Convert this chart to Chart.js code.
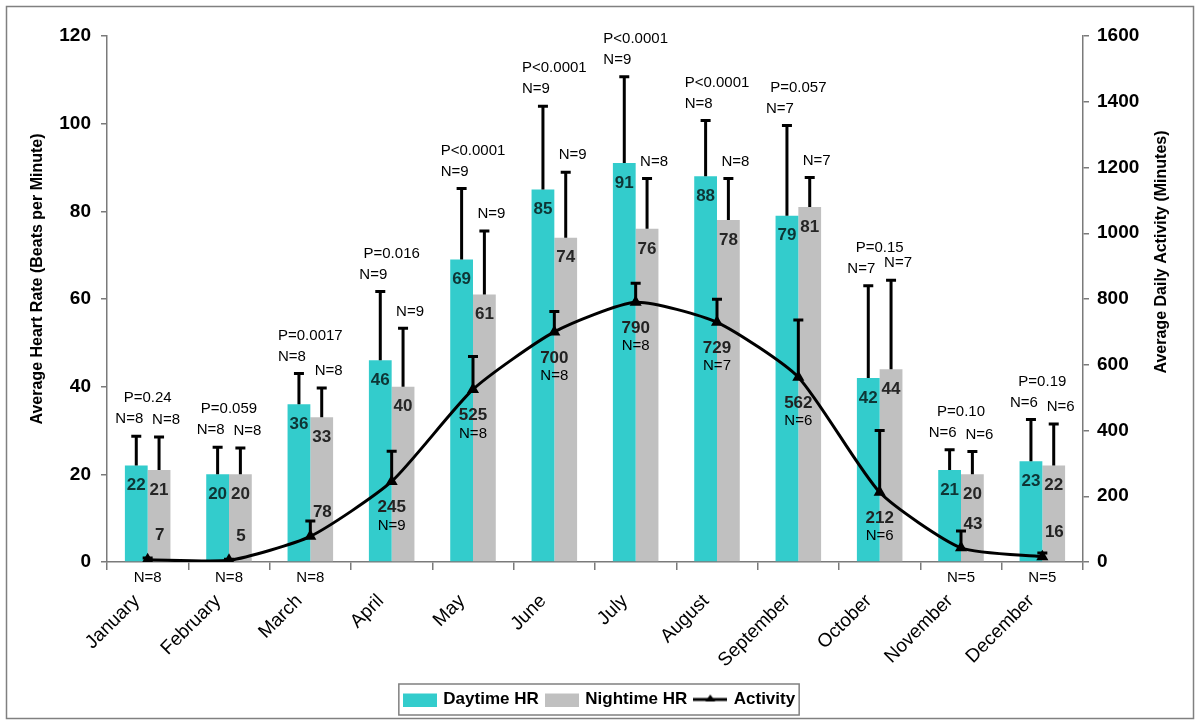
<!DOCTYPE html>
<html>
<head>
<meta charset="utf-8">
<script src="https://cdn.jsdelivr.net/npm/chart.js@4.4.1/dist/chart.umd.min.js"></script>
<style>
  html, body { margin: 0; padding: 0; background: #fff; }
  #wrap { width: 1200px; height: 725px; }
</style>
</head>
<body>
<div id="wrap"><canvas id="myChart" width="1200" height="725"></canvas></div>
<script>
// months on the x axis
const months = ['January', 'February', 'March', 'April', 'May', 'June', 'July',
  'August', 'September', 'October', 'November', 'December'];

// daytime heart rate (bpm), upper SD and sample size
const dayHR = [22, 20, 36, 46, 69, 85, 91, 88, 79, 42, 21, 23];
const dayHRSd = [6.7, 6.2, 7, 15.7, 16.2, 19, 19.7, 12.7, 20.6, 21, 4.6, 9.5];
const dayN = [8, 8, 8, 9, 9, 9, 9, 8, 7, 7, 6, 6];

// nighttime heart rate (bpm), upper SD and sample size
const nightHR = [21, 20, 33, 40, 61, 74, 76, 78, 81, 44, 20, 22];
const nightHRSd = [7.5, 6, 6.7, 13.3, 14.5, 14.9, 11.5, 9.5, 6.7, 20.3, 5.2, 9.5];
const nightN = [8, 8, 8, 9, 9, 9, 8, 8, 7, 7, 6, 6];

// average daily activity (minutes), upper SD and sample size
const activity = [7, 5, 78, 245, 525, 700, 790, 729, 562, 212, 43, 16];
const activitySd = [5, 3, 47, 92, 100, 62, 58, 70, 174, 188, 51, 11];
const activityN = [8, 8, 8, 9, 8, 8, 8, 7, 6, 6, 5, 5];

// day vs night p-values
const pValues = ['P=0.24', 'P=0.059', 'P=0.0017', 'P=0.016', 'P<0.0001', 'P<0.0001',
  'P<0.0001', 'P<0.0001', 'P=0.057', 'P=0.15', 'P=0.10', 'P=0.19'];

const FONT = '"Liberation Sans", Arial, Helvetica, sans-serif';
const TEAL = '#33cccc';
const GREY = '#c0c0c0';
const AXIS = '#7a7a7a';

// little images used as legend symbols
function legendSwatch(kind) {
    const c = document.createElement('canvas');
    c.width = 34; c.height = 14;
    const g = c.getContext('2d');
    if (kind === 'line') {
        g.strokeStyle = '#000';
        g.lineWidth = 3;
        g.beginPath(); g.moveTo(0, 7); g.lineTo(34, 7); g.stroke();
        g.fillStyle = '#000';
        g.beginPath(); g.moveTo(17, 2); g.lineTo(22, 9); g.lineTo(12, 9); g.closePath(); g.fill();
    } else {
        g.fillStyle = kind;
        g.fillRect(0, 1, 34, 13);
    }
    return c;
}

function drawErr(ctx, x, yFrom, yTop) {
    ctx.beginPath();
    ctx.moveTo(x, yFrom);
    ctx.lineTo(x, yTop);
    ctx.moveTo(x - 5, yTop);
    ctx.lineTo(x + 5, yTop);
    ctx.stroke();
}

function txt(ctx, s, x, y, font, color) {
    ctx.font = font;
    ctx.fillStyle = color;
    ctx.fillText(s, x, y);
}

// frame, error bars, labels, axis titles, legend border
const annotate = {
    id: 'annotate',
    beforeDraw(chart) {
        const c = chart.ctx;
        c.save();
        c.fillStyle = '#fff';
        c.fillRect(0, 0, chart.width, chart.height);
        c.strokeStyle = '#808080';
        c.lineWidth = 1.5;
        c.strokeRect(6.5, 6.5, 1187, 712);
        c.restore();
    },
    afterDatasetsDraw(chart) {
        const ctx = chart.ctx;
        const area = chart.chartArea;
        const yL = chart.scales.y, yR = chart.scales.y1;
        const dayMeta = chart.getDatasetMeta(0);
        const nightMeta = chart.getDatasetMeta(1);
        const actMeta = chart.getDatasetMeta(2);

        ctx.save();
        ctx.strokeStyle = '#000';
        ctx.lineWidth = 3;
        ctx.textAlign = 'center';
        ctx.textBaseline = 'middle';

        months.forEach((m, i) => {
            const d = dayMeta.data[i], n = nightMeta.data[i], a = actMeta.data[i];
            const dTop = yL.getPixelForValue(dayHR[i] + dayHRSd[i]);
            const nTop = yL.getPixelForValue(nightHR[i] + nightHRSd[i]);
            const aTop = yR.getPixelForValue(activity[i] + activitySd[i]);

            drawErr(ctx, d.x, d.y, dTop);
            drawErr(ctx, n.x, n.y, nTop);
            drawErr(ctx, a.x, a.y, aTop);

            // values inside the bars
            txt(ctx, String(dayHR[i]), d.x, d.y + 20, 'bold 17px ' + FONT, '#0e3535');
            txt(ctx, String(nightHR[i]), n.x, n.y + 20, 'bold 17px ' + FONT, '#262626');

            // sample sizes and p-values above the error bars
            txt(ctx, 'N=' + dayN[i], d.x - 7, dTop - 17, '15px ' + FONT, '#000');
            txt(ctx, 'N=' + nightN[i], n.x + 7, nTop - 17, '15px ' + FONT, '#000');
            txt(ctx, pValues[i], (d.x + n.x) / 2, dTop - 38, '15px ' + FONT, '#000');

            // activity value + N: small values sit above the point, N under the axis
            if (activity[i] < 100) {
                txt(ctx, String(activity[i]), a.x + 12, a.y - 24, 'bold 17px ' + FONT, '#222');
                txt(ctx, 'N=' + activityN[i], a.x, area.bottom + 16, '15px ' + FONT, '#000');
            } else {
                txt(ctx, String(activity[i]), a.x, a.y + 26, 'bold 17px ' + FONT, '#222');
                txt(ctx, 'N=' + activityN[i], a.x, a.y + 44, '15px ' + FONT, '#000');
            }
        });

        // axis titles, both reading bottom to top
        ctx.font = 'bold 16px ' + FONT;
        ctx.fillStyle = '#000';
        const midY = (area.top + area.bottom) / 2;
        ctx.save();
        ctx.translate(area.left - 69, midY - 20);
        ctx.rotate(-Math.PI / 2);
        ctx.fillText('Average Heart Rate (Beats per Minute)', 0, 0);
        ctx.restore();
        ctx.save();
        ctx.translate(area.right + 79, midY - 47);
        ctx.rotate(-Math.PI / 2);
        ctx.fillText('Average Daily Activity (Minutes)', 0, 0);
        ctx.restore();

        ctx.restore();
    },
    afterDraw(chart) {
        const boxes = chart.legend && chart.legend.legendHitBoxes;
        if (!boxes || !boxes.length) return;
        const l = Math.min(...boxes.map(b => b.left)) - 6;
        const r = Math.max(...boxes.map(b => b.left + b.width)) + 4;
        const t = Math.min(...boxes.map(b => b.top)) - 7;
        const btm = Math.max(...boxes.map(b => b.top + b.height)) + 7;
        const c = chart.ctx;
        c.save();
        c.strokeStyle = '#808080';
        c.lineWidth = 1.5;
        c.strokeRect(l, t, r - l, btm - t);
        c.restore();
    }
};

const swatches = [legendSwatch(TEAL), legendSwatch(GREY), legendSwatch('line')];
const legendNames = ['Daytime HR', 'Nightime HR', 'Activity'];

const config = {
    data: {
        labels: months,
        datasets: [{
            type: 'bar',
            label: 'Daytime HR',
            data: dayHR,
            backgroundColor: TEAL,
            yAxisID: 'y',
            order: 2
        }, {
            type: 'bar',
            label: 'Nightime HR',
            data: nightHR,
            backgroundColor: GREY,
            yAxisID: 'y',
            order: 2
        }, {
            type: 'line',
            label: 'Activity',
            data: activity,
            yAxisID: 'y1',
            borderColor: '#000',
            borderWidth: 3,
            backgroundColor: '#000',
            pointStyle: 'triangle',
            pointRadius: 4,
            pointBackgroundColor: '#000',
            tension: 0.2,
            order: 1
        }]
    },
    options: {
        responsive: false,
        animation: false,
        layout: { padding: { top: 36, left: 0, right: 0, bottom: 7 } },
        datasets: {
            bar: { categoryPercentage: 0.56, barPercentage: 1.0 }
        },
        scales: {
            x: {
                afterFit(s) { s.height = 121; },
                ticks: {
                    color: '#000',
                    font: { family: FONT, size: 19 },
                    maxRotation: 45,
                    minRotation: 45,
                    padding: 20,
                    labelOffset: -11
                },
                grid: { drawOnChartArea: false, tickLength: 8, color: AXIS, lineWidth: 1.5 },
                border: { color: AXIS, width: 1.5 }
            },
            y: {
                position: 'left',
                min: 0,
                max: 120,
                afterFit(s) { s.width = 107; },
                ticks: {
                    stepSize: 20,
                    color: '#000',
                    padding: 10,
                    font: { family: FONT, size: 19, weight: 'bold' }
                },
                grid: { drawOnChartArea: false, tickLength: 6, color: AXIS, lineWidth: 1.5 },
                border: { color: AXIS, width: 1.5 }
            },
            y1: {
                position: 'right',
                min: 0,
                max: 1600,
                afterFit(s) { s.width = 117; },
                ticks: {
                    stepSize: 200,
                    color: '#000',
                    padding: 8,
                    font: { family: FONT, size: 19, weight: 'bold' },
                    callback: v => String(v)
                },
                grid: { drawOnChartArea: false, tickLength: 6, color: AXIS, lineWidth: 1.5 },
                border: { color: AXIS, width: 1.5 }
            }
        },
        plugins: {
            tooltip: { enabled: false },
            legend: {
                position: 'bottom',
                labels: {
                    usePointStyle: true,
                    pointStyleWidth: 30,
                    boxHeight: 14,
                    padding: 8,
                    color: '#000',
                    font: { family: FONT, size: 17, weight: 'bold' },
                    generateLabels() {
                        return legendNames.map((name, i) => ({
                            text: name,
                            datasetIndex: i,
                            pointStyle: swatches[i],
                            fillStyle: 'rgba(0,0,0,0)',
                            strokeStyle: 'rgba(0,0,0,0)',
                            lineWidth: 0,
                            fontColor: '#000',
                            hidden: false
                        }));
                    }
                }
            }
        }
    },
    plugins: [annotate]
};

const heatCtx = document.getElementById('myChart');
const mainChart = new Chart(heatCtx, config);
</script>
</body>
</html>
